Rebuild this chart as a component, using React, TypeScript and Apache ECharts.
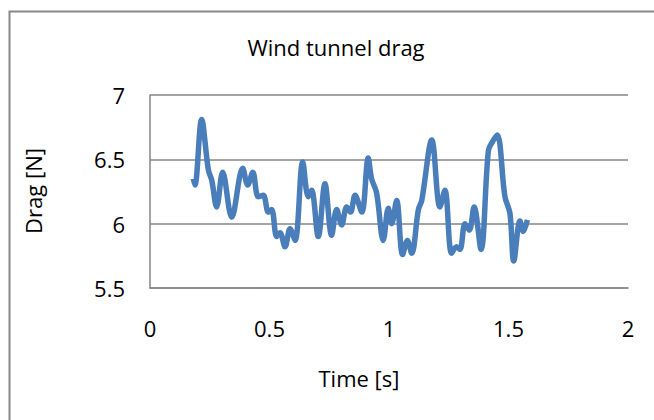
import React, { useEffect, useRef } from "react";
import * as echarts from "echarts";

const titleText = "Wind tunnel drag";
const xName = "Time [s]";
const yName = "Drag [N]";

const times = [
  0.181, 0.188, 0.216, 0.244, 0.258, 0.279, 0.304, 0.342, 0.388, 0.409, 0.43, 0.453, 0.474, 0.495,
  0.509, 0.53, 0.544, 0.565, 0.586, 0.607, 0.639, 0.662, 0.676, 0.704, 0.732, 0.76, 0.781, 0.802,
  0.823, 0.839, 0.858, 0.886, 0.913, 0.927, 0.948, 0.976, 0.997, 1.011, 1.032, 1.057, 1.077, 1.095,
  1.123, 1.137, 1.179, 1.213, 1.234, 1.262, 1.283, 1.297, 1.318, 1.336, 1.356, 1.385, 1.416, 1.434,
  1.453, 1.485, 1.506, 1.522, 1.548, 1.562, 1.579,
];
const drag = [
  6.35, 6.3, 6.81, 6.42, 6.34, 6.13, 6.4, 6.05, 6.43, 6.3, 6.4, 6.21, 6.22, 6.09,
  6.11, 5.9, 5.93, 5.82, 5.96, 5.87, 6.48, 6.21, 6.26, 5.9, 6.31, 5.91, 6.11, 5.99,
  6.13, 6.09, 6.22, 6.09, 6.51, 6.35, 6.24, 5.87, 6.12, 6.0, 6.18, 5.76, 5.87, 5.77,
  6.11, 6.18, 6.65, 6.13, 6.26, 5.77, 5.82, 5.8, 6.0, 5.95, 6.13, 5.8, 6.57, 6.64,
  6.69, 6.21, 6.08, 5.71, 6.02, 5.94, 6.03,
];

const xTicks = { min: 0, max: 2, interval: 0.5 };
const yTicks = { min: 5.5, max: 7, interval: 0.5 };

const FONT = "Open Sans";
const FS = 22;

export default function App() {
  const ref = useRef<HTMLDivElement>(null);
  useEffect(() => {
    document.body.style.margin = "0";
    const chart = echarts.init(ref.current!, null, { renderer: "svg" });
    const data = times.map((t, i) => [t, drag[i]]);
    chart.setOption({
      animation: false,
      backgroundColor: "#ffffff",
      grid: { left: 150, right: 26, top: 95, bottom: 132 },
      xAxis: {
        type: "value",
        min: xTicks.min,
        max: xTicks.max,
        interval: xTicks.interval,
        axisLine: { show: true, lineStyle: { color: "#868686", width: 1.5 } },
        axisTick: { show: false },
        splitLine: { show: false },
        axisLabel: { color: "#000", fontFamily: FONT, fontSize: FS, margin: 29 },
      },
      yAxis: {
        type: "value",
        min: yTicks.min,
        max: yTicks.max,
        interval: yTicks.interval,
        axisLine: { show: true, lineStyle: { color: "#868686", width: 1.5 } },
        axisTick: { show: false },
        splitLine: { show: true, lineStyle: { color: "#868686", width: 1.5 } },
        axisLabel: { color: "#000", fontFamily: FONT, fontSize: FS, margin: 25 },
      },
      series: [
        {
          type: "line",
          data,
          smooth: 0.35,
          showSymbol: false,
          lineStyle: { color: "#4A7EBB", width: 5.5 },
        },
      ],
      graphic: [
        {
          type: "rect",
          shape: { x: 9.5, y: 11.5, width: 800, height: 600 },
          style: { fill: "none", stroke: "#898989", lineWidth: 2 },
          z: 10,
        },
        {
          type: "text",
          x: 336,
          y: 47,
          style: {
            text: titleText,
            fontFamily: FONT,
            fontSize: FS,
            fill: "#000",
            align: "center",
            verticalAlign: "middle",
          },
        },
        {
          type: "text",
          x: 359,
          y: 378,
          style: {
            text: xName,
            fontFamily: FONT,
            fontSize: FS,
            fill: "#000",
            align: "center",
            verticalAlign: "middle",
          },
        },
        {
          type: "text",
          x: 33,
          y: 191,
          rotation: Math.PI / 2,
          style: {
            text: yName,
            fontFamily: FONT,
            fontSize: FS,
            fill: "#000",
            align: "center",
            verticalAlign: "middle",
          },
        },
      ],
    });
    return () => chart.dispose();
  }, []);
  return <div ref={ref} style={{ width: 654, height: 420 }} />;
}
